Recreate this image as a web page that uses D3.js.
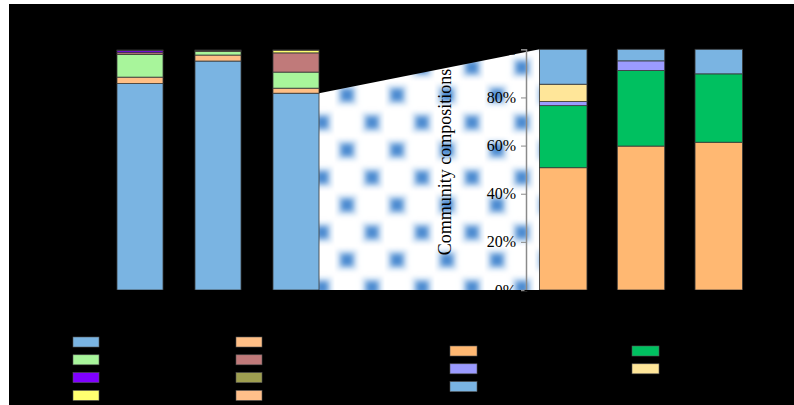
<!DOCTYPE html>
<html>
<head>
<meta charset="utf-8">
<script src="https://cdn.jsdelivr.net/npm/d3@7"></script>
<style>
  html, body { margin: 0; padding: 0; background: #ffffff; }
  svg { display: block; }
  text { font-family: "Liberation Serif", "DejaVu Serif", serif; }
</style>
</head>
<body>
<svg id="chart" width="794" height="405"></svg>
<script>
// ---------- data ----------
const leftTitle = "Phylum level";
const rightTitle = "Genus level";
const leftGroups = ["CK", "T1", "T2"];
const rightGroups = ["CK", "T1", "T2"];
const leftTaxa = ["Proteobacteria", "Firmicutes", "Bacteroidetes", "Chloroflexi",
                  "Actinobacteriota", "Acidobacteria", "Cyanobacteria", "Others"];
const leftColors = ["#7ab4e2", "#ffbf86", "#a8f59b", "#c07a7a",
                    "#7f00ff", "#9e9e50", "#ffff70", "#ffbf8a"];
// values per group (fractions), same order as leftTaxa
const leftCK = [0.860, 0.027, 0.095, 0.007, 0.008, 0.000, 0.000, 0.003];
const leftT1 = [0.954, 0.025, 0.015, 0.000, 0.000, 0.000, 0.003, 0.003];
const leftT2 = [0.820, 0.021, 0.067, 0.080, 0.000, 0.000, 0.011, 0.001];
const rightTaxa = ["Pseudomonas_stutzeri", "Acinetobacter", "Stenotrophomonas_sp.",
                   "Sphingomonas_sp.", "Others"];
const rightColors = ["#ffb872", "#00c060", "#9b9bff", "#ffe699", "#7ab4e2"];
const rightCK = [0.508, 0.258, 0.017, 0.072, 0.145];
const rightT1 = [0.598, 0.314, 0.040, 0.000, 0.048];
const rightT2 = [0.614, 0.284, 0.000, 0.000, 0.102];
const yTicks = [0, 0.2, 0.4, 0.6, 0.8, 1.0];
const leftXTitle = "Groups";
const rightXTitle = "Treatment time";
const yTitle = "Community compositions";

// ---------- setup ----------
const svg = d3.select("#chart");
const defs = svg.append("defs");

// blurred-square pattern for the zoom wedge
const blur = defs.append("filter").attr("id", "blur")
  .attr("x", "-100%").attr("y", "-100%").attr("width", "300%").attr("height", "300%");
blur.append("feGaussianBlur").attr("stdDeviation", 2.6);
const pat = defs.append("pattern").attr("id", "dots")
  .attr("patternUnits", "userSpaceOnUse")
  .attr("x", 334.5).attr("y", 81.25).attr("width", 50).attr("height", 55);
pat.append("rect").attr("width", 50).attr("height", 55).attr("fill", "#ffffff");
[[12.5, 13.75], [37.5, 41.25]].forEach(([cx, cy]) => {
  pat.append("rect").attr("x", cx - 10).attr("y", cy - 10)
    .attr("width", 20).attr("height", 20).attr("fill", "#a9c9ec")
    .attr("opacity", 0.55).attr("filter", "url(#blur)");
  pat.append("rect").attr("x", cx - 6).attr("y", cy - 6)
    .attr("width", 12).attr("height", 12).attr("fill", "#4b8bd0")
    .attr("filter", "url(#blur)");
});

// black canvas area
svg.append("rect").attr("x", 9).attr("y", 4).attr("width", 785).attr("height", 401).attr("fill", "#000000");

// ---------- scales ----------
const lx = d3.scaleBand().domain(leftGroups).range([101, 335]).paddingInner(0.41).paddingOuter(0.205);
const ly = d3.scaleLinear().domain([0, 1]).range([290, 50]);
const rx = d3.scaleBand().domain(rightGroups).range([524, 758]).paddingInner(0.39).paddingOuter(0.2);
const ry = d3.scaleLinear().domain([0, 1]).range([290, 49.3]);

function stackRows(groups, arrays, taxa) {
  return groups.map((g, i) => {
    const row = { group: g };
    taxa.forEach((t, j) => row[t] = arrays[i][j]);
    return row;
  });
}
const leftRows = stackRows(leftGroups, [leftCK, leftT1, leftT2], leftTaxa);
const rightRows = stackRows(rightGroups, [rightCK, rightT1, rightT2], rightTaxa);
const leftStack = d3.stack().keys(leftTaxa)(leftRows);
const rightStack = d3.stack().keys(rightTaxa)(rightRows);

// ---------- wedge ----------
const lastL = leftGroups[leftGroups.length - 1];
const blueTop = leftStack[0][leftGroups.length - 1][1];
const wedge = [
  [lx(lastL) + lx.bandwidth(), ly(blueTop)],
  [rx(rightGroups[0]), ry(1)],
  [rx(rightGroups[0]), ry(0)],
  [lx(lastL) + lx.bandwidth(), ly(0)]
];
svg.append("polygon").attr("points", wedge.map(p => p.join(",")).join(" "))
  .attr("fill", "url(#dots)");

// ---------- bars ----------
function drawBars(stack, x, y, colors) {
  svg.append("g").selectAll("g").data(stack).join("g")
    .attr("fill", (d, i) => colors[i])
    .selectAll("rect").data(d => d.filter(s => s[1] - s[0] > 0)).join("rect")
    .attr("x", d => x(d.data.group))
    .attr("width", x.bandwidth())
    .attr("y", d => y(d[1]))
    .attr("height", d => y(d[0]) - y(d[1]))
    .attr("stroke", "#3a3a3a").attr("stroke-width", 0.8);
}
drawBars(leftStack, lx, ly, leftColors);
drawBars(rightStack, rx, ry, rightColors);

// ---------- axes ----------
const fmt = d3.format(".0%");
const lAxis = svg.append("g").attr("transform", "translate(101,0)")
  .call(d3.axisLeft(ly).tickValues(yTicks).tickFormat(fmt).tickSize(5).tickPadding(6));
lAxis.select(".domain").attr("stroke", "#000");
lAxis.selectAll(".tick line").attr("stroke", "#000");
const rAxis = svg.append("g").attr("transform", "translate(526,0)")
  .call(d3.axisLeft(ry).tickValues(yTicks).tickFormat(fmt).tickSize(5).tickPadding(5));
rAxis.select(".domain").attr("stroke", "#8a8a8a").attr("stroke-width", 1.5);
rAxis.selectAll(".tick line").attr("stroke", "#8a8a8a");
[lAxis, rAxis].forEach(a => a.selectAll("text")
  .attr("fill", "#000").attr("font-size", 16).attr("font-family", "Liberation Serif, serif"));

const lxAxis = svg.append("g").attr("transform", "translate(0,290)")
  .call(d3.axisBottom(lx).tickSize(0).tickPadding(8));
const rxAxis = svg.append("g").attr("transform", "translate(0,290)")
  .call(d3.axisBottom(rx).tickSize(0).tickPadding(8));
[lxAxis, rxAxis].forEach(a => {
  a.select(".domain").attr("stroke", "#000");
  a.selectAll("text").attr("fill", "#000").attr("font-size", 13).attr("font-family", "Liberation Serif, serif");
});

// ---------- titles ----------
svg.append("text").attr("x", 212).attr("y", 22).attr("text-anchor", "middle")
  .attr("font-size", 17).attr("fill", "#000").text(leftTitle);
svg.append("text").attr("x", 642).attr("y", 30).attr("text-anchor", "middle")
  .attr("font-size", 17).attr("fill", "#000").text(rightTitle);
svg.append("text").attr("x", 218).attr("y", 327).attr("text-anchor", "middle")
  .attr("font-size", 14).attr("fill", "#000").text(leftXTitle);
svg.append("text").attr("x", 640).attr("y", 335).attr("text-anchor", "middle")
  .attr("font-size", 15).attr("fill", "#000").text(rightXTitle);
svg.append("text").attr("transform", "translate(451,162) rotate(-90)").attr("text-anchor", "middle")
  .attr("font-size", 18).attr("fill", "#000").text(yTitle);
svg.append("text").attr("transform", "translate(32,170) rotate(-90)").attr("text-anchor", "middle")
  .attr("font-size", 18).attr("fill", "#000").text(yTitle);

// ---------- legends ----------
function legend(taxa, colors, x0, y0, colGap, rowGap, sw) {
  const g = svg.append("g");
  taxa.forEach((t, i) => {
    const col = i % 2, row = Math.floor(i / 2);
    const gx = x0 + col * colGap, gy = y0 + row * rowGap;
    g.append("rect").attr("x", gx).attr("y", gy).attr("width", sw).attr("height", 10)
      .attr("fill", colors[i]).attr("stroke", "#555").attr("stroke-width", 0.6);
    g.append("text").attr("x", gx + sw + 8).attr("y", gy + 10)
      .attr("font-size", 13).attr("fill", "#000").text(t);
  });
}
legend(leftTaxa, leftColors, 73, 337, 163, 17.8, 26);
legend(rightTaxa, rightColors, 450, 346, 182, 17.8, 27);
</script>
</body>
</html>
